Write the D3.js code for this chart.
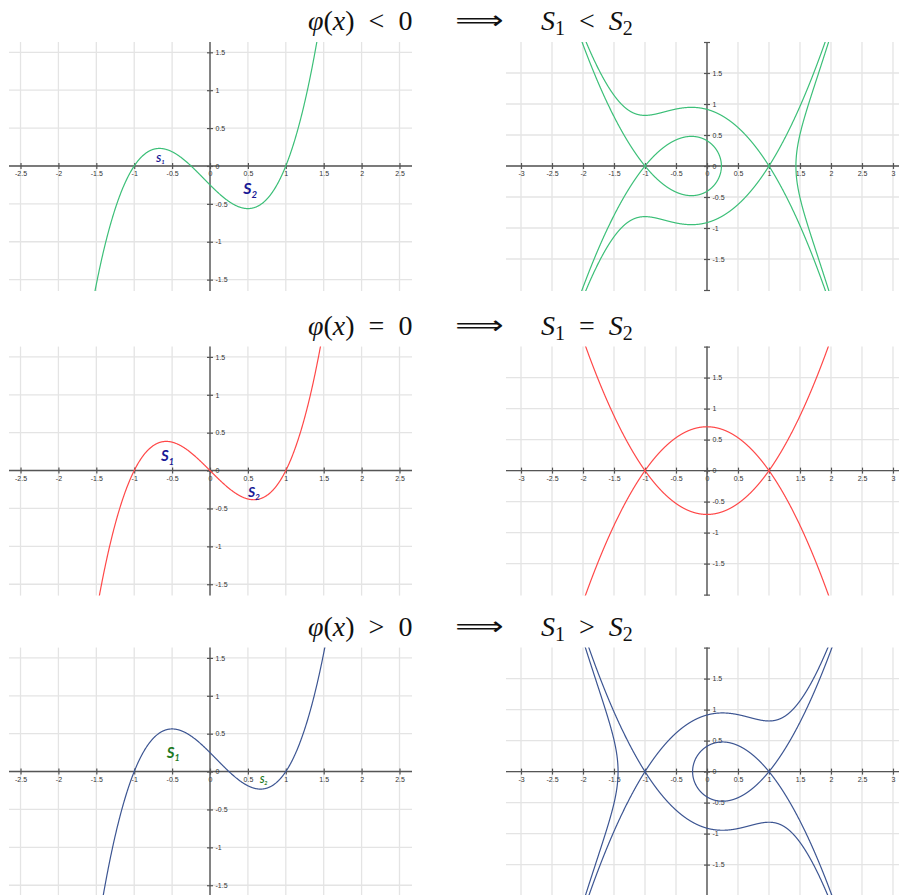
<!DOCTYPE html>
<html>
<head>
<meta charset="utf-8">
<script src="https://cdn.jsdelivr.net/npm/d3@7"></script>
<style>
  html, body { margin: 0; padding: 0; background: #fff; }
  svg { display: block; }
  .heading { font-family: "Liberation Serif", "Times New Roman", "DejaVu Serif", serif; }
</style>
</head>
<body>
<svg id="chart" width="899" height="895"></svg>
<script>
// phi(x) = (x^2 - 1)(x - r): zeros at -1, 1 and r, one row per value of r
const thirdRoots = [-0.25, 0, 0.25];
const saddles = [-1, 1];
const relations = ["<", "=", ">"];
const curveColors = ["#3cbf78", "#ff4848", "#3c5592"];
const labelColors = ["#1a1a96", "#1a1a96", "#1e7a1e"];
// area labels: [text, subscript, x, y (baseline), font size]
const areaLabels = [
  [["S", "1", -0.712, 0.057, 10], ["S", "2", 0.44, -0.375, 16]],
  [["S", "1", -0.645, 0.12, 15], ["S", "2", 0.5, -0.345, 14]],
  [["S", "1", -0.57, 0.185, 15], ["S", "2", 0.655, -0.157, 9]]
];
const leftXTicks = [-2.5, -2, -1.5, -1, -0.5, 0, 0.5, 1, 1.5, 2, 2.5];
const leftYTicks = [-1.5, -1, -0.5, 0, 0.5, 1, 1.5];
const rightXTicks = [-3, -2.5, -2, -1.5, -1, -0.5, 0, 0.5, 1, 1.5, 2, 2.5, 3];
const rightYTicks = [-2, -1.5, -1, -0.5, 0, 0.5, 1, 1.5, 2];
const rightYLabels = [-1.5, -1, -0.5, 0, 0.5, 1, 1.5];

const axisRows = [166, 470.6, 771.6];

const svg = d3.select("#chart");
const fmt = d => String(d);

function phi(x, r) { return (x * x - 1) * (x - r); }
// antiderivative of phi with F(0) = 0
function Phi(x, r) { return x ** 4 / 4 - r * x ** 3 / 3 - x * x / 2 + r * x; }

function drawFrame(g, x, y, xTicks, yTicks, yLabels, id) {
  const [x0, x1] = x.range();
  const [y0, y1] = y.range();
  // grid
  g.append("g").selectAll("line").data(xTicks).join("line")
    .attr("x1", d => x(d)).attr("x2", d => x(d))
    .attr("y1", y1).attr("y2", y0)
    .attr("stroke", "#e4e4e4").attr("stroke-width", 1.3);
  g.append("g").selectAll("line").data(yTicks.filter(d => Math.abs(d) < 1.9)).join("line")
    .attr("x1", x0).attr("x2", x1)
    .attr("y1", d => y(d)).attr("y2", d => y(d))
    .attr("stroke", "#e4e4e4").attr("stroke-width", 1.3);

  const xa = g.append("g").attr("transform", `translate(0,${y(0)})`)
    .call(d3.axisBottom(x).tickValues(xTicks).tickSize(3).tickPadding(2.5).tickFormat(fmt));
  xa.select(".domain").attr("d", `M${x0},0H${x1}`);
  const ya = g.append("g").attr("transform", `translate(${x(0)},0)`)
    .call(d3.axisRight(y).tickValues(yTicks).tickSize(3).tickPadding(2.5)
      .tickFormat(d => yLabels.includes(d) ? fmt(d) : ""));
  ya.select(".domain").attr("d", `M0,${y1}V${y0}`);
  [xa, ya].forEach(a => {
    a.select(".domain").attr("stroke", "#555").attr("stroke-width", 1.4);
    a.selectAll(".tick line").attr("stroke", "#555").attr("stroke-width", 1.2);
    a.selectAll(".tick text").attr("fill", "#333")
      .style("font", "7px 'Liberation Sans', Arial, sans-serif");
  });
  xa.selectAll(".tick line").attr("y1", -3).attr("y2", 3);
  ya.selectAll(".tick line").attr("x1", -3).attr("x2", 3);

  svg.append("clipPath").attr("id", id).append("rect")
    .attr("x", x0).attr("y", y1).attr("width", x1 - x0).attr("height", y0 - y1);
}

// level set y^2/2 - Phi(x) = c, split into drawable branches
function levelPaths(r, c, xmin, xmax) {
  const G = x => c + Phi(x, r);
  const step = 0.002;
  let xs = d3.range(xmin, xmax + step / 2, step);
  xs = xs.concat(saddles.filter(s => s > xmin && s < xmax)).sort((a, b) => a - b);
  const tol = 1e-10;
  const ok = x => G(x) >= -tol;
  const runs = [];
  let cur = null;
  for (let i = 0; i < xs.length; i++) {
    const xv = xs[i];
    if (ok(xv)) {
      if (!cur) {
        cur = { pts: [], lEdge: i === 0, rEdge: false };
        if (i > 0) {
          // refine simple zero on the left
          let a = xs[i - 1], b = xv;
          for (let k = 0; k < 60; k++) { const m = (a + b) / 2; if (ok(m)) b = m; else a = m; }
          cur.pts.push(b);
          for (let t = 1; t < 12; t++) cur.pts.push(b + (xv - b) * (t / 12) ** 2);
        }
        runs.push(cur);
      }
      cur.pts.push(xv);
    } else if (cur) {
      let a = xs[i - 1], b = xv;
      for (let k = 0; k < 60; k++) { const m = (a + b) / 2; if (ok(m)) a = m; else b = m; }
      const last = cur.pts[cur.pts.length - 1];
      for (let t = 11; t >= 1; t--) cur.pts.push(a - (a - last) * (t / 12) ** 2);
      cur.pts.push(a);
      cur = null;
    }
  }
  if (cur) cur.rEdge = true;
  const out = [];
  runs.forEach(run => {
    const up = run.pts.map(x => [x, Math.sqrt(Math.max(0, 2 * G(x)))]);
    const dn = run.pts.map(x => [x, -Math.sqrt(Math.max(0, 2 * G(x)))]);
    if (run.lEdge && run.rEdge) { out.push(up); out.push(dn); }
    else if (run.rEdge) out.push(up.slice().reverse().concat(dn));
    else out.push(up.concat(dn.slice().reverse()));
  });
  return out;
}

thirdRoots.forEach((r, i) => {
  const ay = axisRows[i];
  const color = curveColors[i];

  // left: graph of phi
  const xL = d3.scaleLinear().domain([-2.652, 2.665]).range([9, 412]);
  const yL = d3.scaleLinear().domain([-1.65, 1.636]).range([ay + 125, ay - 124]);
  const gl = svg.append("g");
  drawFrame(gl, xL, yL, leftXTicks, leftYTicks, leftYTicks, "clipL" + i);
  const xsL = d3.range(-2.7, 2.7001, 0.004);
  gl.append("path")
    .attr("clip-path", `url(#clipL${i})`)
    .attr("d", d3.line().x(d => xL(d)).y(d => yL(phi(d, r)))(xsL))
    .attr("fill", "none").attr("stroke", color).attr("stroke-width", 1.2);

  areaLabels[i].forEach(([t, sub, lx, ly, fs]) => {
    const tx = gl.append("text")
      .attr("x", xL(lx)).attr("y", yL(ly))
      .attr("fill", labelColors[i])
      .style("font-family", "Lato, 'Open Sans', sans-serif")
      .style("font-weight", "bold").style("font-style", "italic")
      .style("font-size", fs + "px");
    tx.append("tspan").text(t);
    tx.append("tspan").attr("dy", fs * 0.22).style("font-size", (fs * 0.6) + "px").text(sub);
  });

  // right: phase curves through the two saddle points
  const xR = d3.scaleLinear().domain([-3.242, 3.097]).range([506, 899]);
  const yR = d3.scaleLinear().domain([-2.016, 2]).range([ay + 125, ay - 124]);
  const gr = svg.append("g");
  drawFrame(gr, xR, yR, rightXTicks, rightYTicks, rightYLabels, "clipR" + i);
  const levels = Array.from(new Set(saddles.map(s => +(-Phi(s, r)).toFixed(12))));
  const line = d3.line().x(d => xR(d[0])).y(d => yR(d[1]));
  levels.forEach(c => {
    levelPaths(r, c, -3.4, 3.3).forEach(pts => {
      gr.append("path")
        .attr("clip-path", `url(#clipR${i})`)
        .attr("d", line(pts))
        .attr("fill", "none").attr("stroke", color).attr("stroke-width", 1.2);
    });
  });

  // heading
  const base = ay - 136;
  const h1 = svg.append("text").attr("class", "heading").attr("x", 308).attr("y", base)
    .attr("font-size", 28).attr("fill", "#111");
  h1.append("tspan").attr("font-style", "italic").text("φ");
  h1.append("tspan").text("(");
  h1.append("tspan").attr("font-style", "italic").text("x");
  h1.append("tspan").text(`)\u2002${relations[i]}\u20020`);
  svg.append("text").attr("x", 479.5).attr("y", base - 1).attr("text-anchor", "middle")
    .attr("font-family", "DejaVu Sans, sans-serif").attr("font-size", 26)
    .attr("transform", `translate(479.5,0) scale(1.3,1) translate(-479.5,0)`)
    .attr("fill", "#111").text("\u27F9");
  const h3 = svg.append("text").attr("class", "heading").attr("x", 541).attr("y", base)
    .attr("font-size", 28).attr("fill", "#111");
  h3.append("tspan").attr("font-style", "italic").text("S");
  h3.append("tspan").attr("dy", 5).attr("font-size", 20).text("1");
  h3.append("tspan").attr("dy", -5).text(`\u2002${relations[i]}\u2002`);
  h3.append("tspan").attr("font-style", "italic").text("S");
  h3.append("tspan").attr("dy", 5).attr("font-size", 20).text("2");
});
</script>
</body>
</html>
